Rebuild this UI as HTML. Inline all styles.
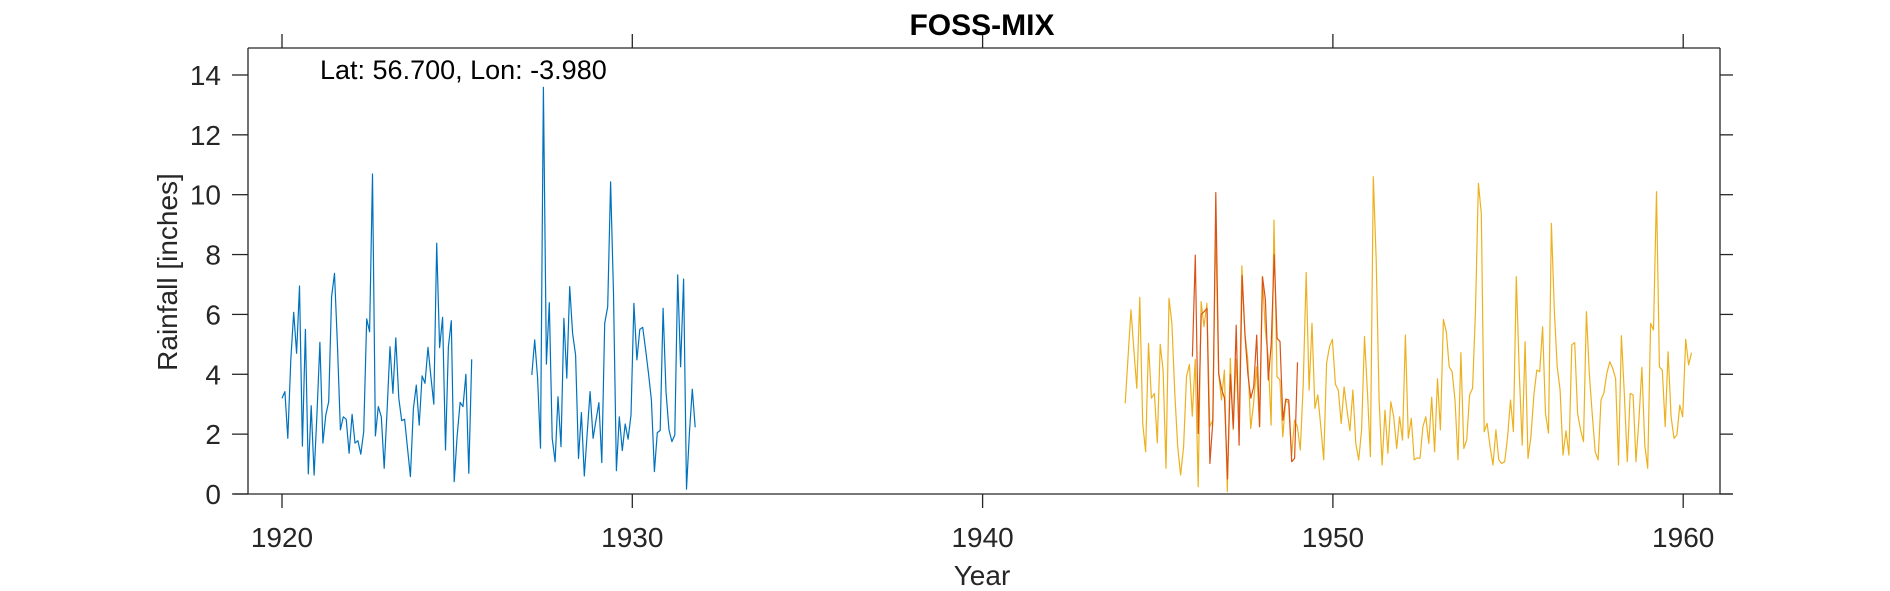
<!DOCTYPE html>
<html><head><meta charset="utf-8">
<style>
html,body{margin:0;padding:0;background:#fff;}
svg{display:block;font-family:"Liberation Sans",Helvetica,Arial,sans-serif;}
</style></head>
<body>
<svg id="chart" width="1890" height="591" viewBox="0 0 1890 591">
<rect x="0" y="0" width="1890" height="591" fill="#fff"/>
<g id="plot"></g>
<g id="axes"></g>
<text x="982" y="35" text-anchor="middle" font-size="30" font-weight="bold" fill="#000">FOSS-MIX</text>
<text x="320" y="79" font-size="27" fill="#000">Lat: 56.700, Lon: -3.980</text>
<text x="982" y="585" text-anchor="middle" font-size="28" fill="#262626">Year</text>
<text transform="translate(177,272) rotate(-90)" text-anchor="middle" font-size="28" fill="#262626">Rainfall [inches]</text>
</svg>
<script>
const xTicks = [1920, 1930, 1940, 1950, 1960];
const yTicks = [0, 2, 4, 6, 8, 10, 12, 14];
const blue1Start = 1920.0;
const blue1 = [3.2,3.42,1.86,4.48,6.07,4.7,6.95,1.6,5.5,0.67,2.95,0.63,2.7,5.07,1.7,2.64,3.08,6.6,7.37,4.92,2.14,2.58,2.5,1.36,2.66,1.7,1.78,1.33,2.08,5.85,5.42,10.69,1.94,2.92,2.58,0.86,2.8,4.92,3.36,5.22,3.2,2.45,2.5,1.53,0.58,2.86,3.64,2.3,3.95,3.7,4.9,3.92,3.0,8.38,4.89,5.9,1.47,4.92,5.79,0.41,1.92,3.06,2.92,4.0,0.69,4.5];
const blue2Start = 1927.13;
const blue2 = [3.98,5.15,3.87,1.53,13.59,4.34,6.39,1.86,1.08,3.25,1.58,5.87,3.87,6.93,5.37,4.64,1.19,2.72,0.6,2.03,3.42,1.86,2.47,3.05,1.05,5.7,6.26,10.43,6.7,0.78,2.58,1.45,2.34,1.83,2.64,6.37,4.48,5.5,5.57,4.83,4.03,3.14,0.75,2.05,2.12,6.2,3.42,2.14,1.75,1.97,7.32,4.25,7.18,0.16,2.03,3.5,2.23];
const orangeStart = 1944.07;
const orange = [3.03,4.6,6.15,4.8,3.53,6.57,2.36,1.41,5.03,3.2,3.36,1.71,5.0,4.14,0.86,6.54,5.7,3.36,1.58,0.63,1.58,3.92,4.33,2.6,4.5,0.24,6.43,5.59,6.37,2.25,2.47,8.9,4.03,3.14,4.14,0.08,4.53,2.14,4.5,2.25,7.62,5.37,4.48,2.19,3.03,4.25,2.25,7.26,5.48,4.59,2.3,9.15,3.92,3.81,1.91,3.14,3.03,1.25,2.47,2.25,1.47,3.64,7.4,3.47,5.7,2.86,3.31,2.25,1.14,4.37,4.92,5.17,3.67,3.47,2.36,3.58,2.8,2.11,3.47,1.69,1.14,2.14,5.26,3.36,1.25,10.6,7.82,3.14,0.97,2.8,1.36,3.08,2.58,1.52,2.58,1.8,5.31,1.86,2.53,1.14,1.21,1.19,2.25,2.58,1.69,3.23,1.41,3.85,2.14,5.83,5.42,4.25,4.09,3.14,1.14,4.72,1.52,1.8,3.31,3.53,6.15,10.38,9.38,2.08,2.36,1.58,0.97,2.14,1.14,1.02,1.08,1.91,3.14,2.08,7.26,4.03,1.63,5.09,1.19,1.91,3.31,4.14,4.09,5.59,2.69,2.03,9.04,6.15,4.25,3.47,1.3,2.11,1.3,4.98,5.06,2.69,2.14,1.75,6.09,4.03,2.69,1.41,1.14,3.14,3.38,4.03,4.42,4.2,3.86,0.97,5.29,3.36,1.08,3.36,3.31,1.08,2.47,4.23,1.63,0.86,5.7,5.48,10.1,4.25,4.14,2.25,4.75,2.58,1.86,1.97,2.97,2.58,5.17,4.31,4.72];
const redStart = 1945.99;
const red = [4.59,7.98,2.02,6.0,6.09,6.2,1.02,2.47,10.07,4.03,3.5,3.2,0.5,4.0,2.2,5.64,1.63,7.3,5.3,4.0,3.2,3.58,5.31,2.25,7.26,6.5,3.81,5.0,8.0,5.2,5.1,2.47,3.17,3.14,1.08,1.19,4.4];

const NS = 'http://www.w3.org/2000/svg';
const L = 248, R = 1720, T = 48, B = 494;
function sx(v){ return 282 + (v - 1920) * 35.03; }
function sy(v){ return B - v * 29.93; }

const plot = document.getElementById('plot');
const axes = document.getElementById('axes');

function mk(tag, attrs, parent){
  const e = document.createElementNS(NS, tag);
  for (const k in attrs) e.setAttribute(k, attrs[k]);
  parent.appendChild(e);
  return e;
}

function series(vals, start, color, name){
  const pts = vals.map((v,i)=> sx(start + i/12).toFixed(1) + ',' + sy(v).toFixed(1)).join(' ');
  const p = mk('polyline', {points: pts, fill: 'none', stroke: color, 'stroke-width': '1.2', 'stroke-linejoin': 'round'}, plot);
  
  
}
series(blue1, blue1Start, '#0072BD', 'blue-series-1920s');
series(blue2, blue2Start, '#0072BD', 'blue-series-1927-1932');
series(orange, orangeStart, '#EDB120', 'orange-series');
series(red, redStart, '#D95319', 'red-series');

const ax = {stroke:'#262626','stroke-width':'1.3',fill:'none'};
let ln;
ln = mk('line', Object.assign({x1:234,y1:B,x2:1733,y2:B}, ax), axes);


ln = mk('line', Object.assign({x1:L,y1:T,x2:L,y2:B}, ax), axes);


ln = mk('line', Object.assign({x1:L,y1:T,x2:R,y2:T}, ax), axes);


ln = mk('line', Object.assign({x1:R,y1:T,x2:R,y2:B}, ax), axes);



xTicks.forEach(t=>{
  const x = sx(t);
  let a = mk('line', Object.assign({x1:x,y1:B,x2:x,y2:B+14}, ax), axes);
  
  
  let b = mk('line', Object.assign({x1:x,y1:T,x2:x,y2:T-14}, ax), axes);
  
  
  const tx = mk('text', {x:x, y:547, 'text-anchor':'middle', 'font-size':'28', fill:'#262626'}, axes);
  tx.textContent = t;
  
  
});
yTicks.forEach(t=>{
  const y = sy(t);
  let a = mk('line', Object.assign({x1:L-16,y1:y,x2:L,y2:y}, ax), axes);
  
  
  let b = mk('line', Object.assign({x1:R,y1:y,x2:R+13,y2:y}, ax), axes);
  
  
  const tx = mk('text', {x:221, y:y+10, 'text-anchor':'end', 'font-size':'28', fill:'#262626'}, axes);
  tx.textContent = t;
  
  
});
</script>
</body></html>
